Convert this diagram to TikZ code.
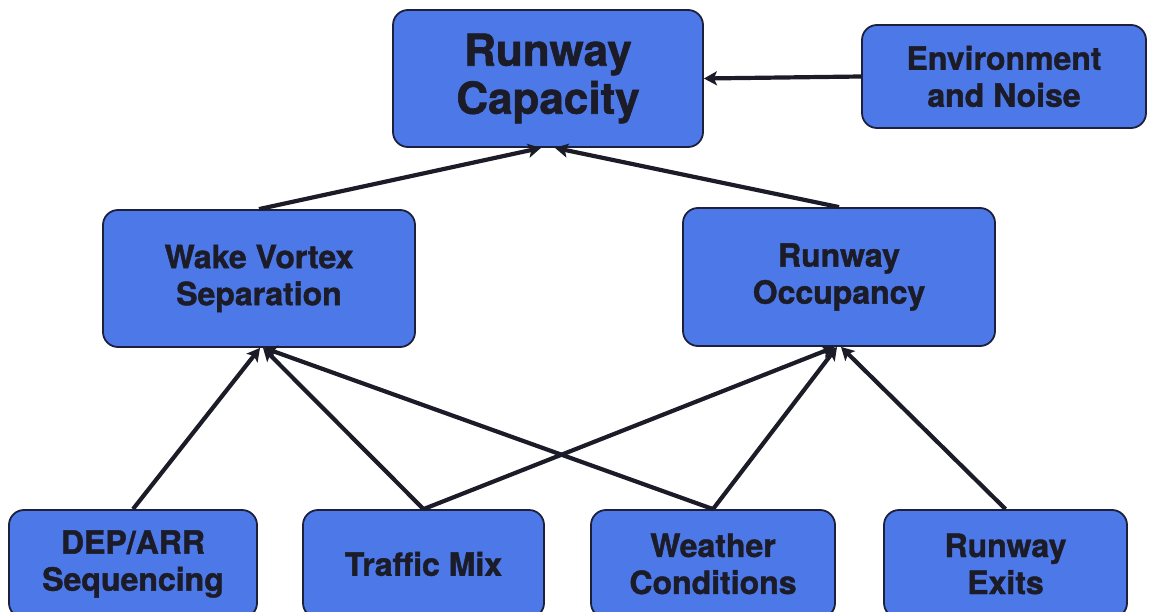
\documentclass[tikz,border=0pt]{standalone}
\usepackage{fontspec}
\setmainfont[BoldFeatures={FakeBold=1.3}]{TeX Gyre Heros}
\usetikzlibrary{arrows.meta}
\definecolor{boxfill}{RGB}{76,120,232}
\definecolor{boxline}{RGB}{28,32,60}
\definecolor{txt}{RGB}{28,28,40}
\tikzset{
  box/.style={draw=boxline, line width=1.8pt, fill=boxfill, rounded corners=15pt,
    inner sep=0pt, align=center, text=txt, font=\bfseries\fontsize{32}{37}\selectfont},
  bigbox/.style={box, font=\bfseries\fontsize{44}{48}\selectfont},
  link/.style={line width=4.2pt, draw=txt, -{Stealth[length=13pt,width=14pt,inset=3pt]}}
}
\begin{document}
\begin{tikzpicture}[x=1pt,y=-1pt]
\useasboundingbox (0,0) rectangle (1166,612);
\clip (0,0) rectangle (1166,612);
\node[bigbox, minimum width=310pt, minimum height=137pt] (cap) at (548,78.5) {Runway\\Capacity};
\node[box, minimum width=284pt, minimum height=103pt] (env) at (1004,76.5) {Environment\\and Noise};
\node[box, minimum width=312pt, minimum height=137pt] (wake) at (259,278.5) {Wake Vortex\\Separation};
\node[box, minimum width=312pt, minimum height=138pt] (occ) at (839,277) {Runway\\Occupancy};
\node[box, minimum width=248pt, minimum height=108pt] (dep) at (133,564) {DEP/ARR\\Sequencing};
\node[box, minimum width=241pt, minimum height=108pt] (mix) at (423.5,564) {Traffic Mix};
\node[box, minimum width=244pt, minimum height=108pt] (wea) at (713,564) {Weather\\Conditions};
\node[box, minimum width=243pt, minimum height=108pt] (ext) at (1005.5,564) {Runway\\Exits};
\draw[link] (env.west) -- (cap.east);
\draw[link] (wake.north) -- ([xshift=-7pt]cap.south);
\draw[link] (occ.north) -- ([xshift=7pt]cap.south);
\draw[link] (dep.north) -- ([xshift=1pt]wake.south);
\draw[link] (mix.north) -- ([xshift=4pt]wake.south);
\draw[link] (wea.north) -- ([xshift=5pt]wake.south);
\draw[link] (mix.north) -- ([xshift=-4pt]occ.south);
\draw[link] (wea.north) -- ([xshift=-2pt]occ.south);
\draw[link] (ext.north) -- ([xshift=2pt]occ.south);
\end{tikzpicture}
\end{document}
